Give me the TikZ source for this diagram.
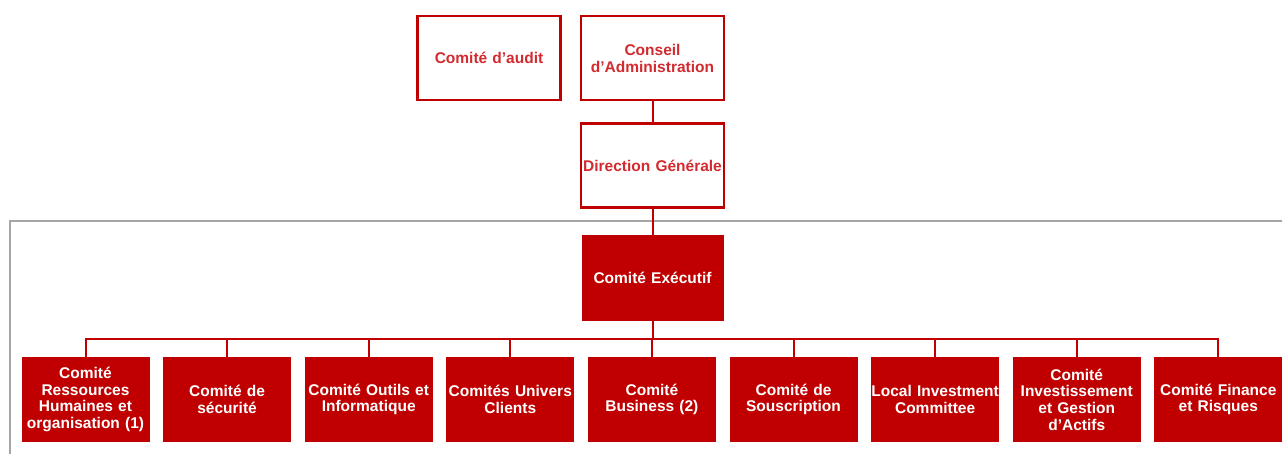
\documentclass[tikz,border=0pt]{standalone}
\usepackage{fontspec}
\setmainfont{Liberation Sans}
\usepackage{tikz}
\usetikzlibrary{positioning}

\definecolor{rouge}{HTML}{C00000}
\definecolor{rougetexte}{HTML}{D22A2E}
\definecolor{cadre}{HTML}{A6A6A6}

\begin{document}
\begin{tikzpicture}[x=1pt, y=1pt, node distance=13.6pt,
    haut/.style={draw=rouge, line width=2.5pt, rectangle, minimum width=143pt, minimum height=84pt,
        inner sep=0pt, text width=140pt, align=center, text=rougetexte,
        font=\fontsize{15.5}{17}\selectfont\bfseries},
    comite/.style={fill=rouge, rectangle, minimum width=128pt, minimum height=85pt, inner sep=0pt,
        outer sep=0pt, text width=128pt, align=center, text=white,
        font=\fontsize{15.5}{16.7}\selectfont\bfseries},
    lien/.style={draw=rouge, line width=2pt}]
    \useasboundingbox (0,0) rectangle (1282,-454);

    % cadre gris
    \draw[cadre, line width=1.5pt] (10,-470) |- (1300,-221);

    \node[haut] (conseil) at (652.5,-58) {
        Conseil\\
        d’Administration
    };
    \node[haut, left=18pt of conseil] (audit) {
        Comité d’audit
    };
    \node[haut, below=21pt of conseil] (dg) {
        Direction Générale
    };
    \node[comite, minimum width=142pt, minimum height=86pt, text width=142pt, below=26pt of dg] (comex) {
        Comité Exécutif
    };

    \node[comite] (rh) at (85.5,-399.5) {
        Comité\\
        Ressources\\
        Humaines et\\
        organisation (1)
    };
    \node[comite, right=of rh] (securite) {
        Comité de\\
        sécurité
    };
    \node[comite, right=of securite] (outils) {
        Comité Outils et\\
        Informatique
    };
    \node[comite, right=of outils] (clients) {
        Comités Univers\\
        Clients
    };
    \node[comite, right=of clients] (business) {
        Comité\\
        Business (2)
    };
    \node[comite, right=of business] (souscription) {
        Comité de\\
        Souscription
    };
    \node[comite, right=of souscription] (lic) {
        Local Investment\\
        Committee
    };
    \node[comite, right=of lic] (actifs) {
        Comité\\
        Investissement\\
        et Gestion\\
        d’Actifs
    };
    \node[comite, right=of actifs] (finance) {
        Comité Finance\\
        et Risques
    };

    \draw[lien] (conseil) -- (dg);
    \draw[lien] (dg) -- (comex);
    \draw[lien] (comex.south) -- ++(0,-18) coordinate (bus);
    \draw[lien] (rh.north) |- (bus) -| (finance.north);
    \draw[lien] (securite.north) -- (securite.north |- bus);
    \draw[lien] (outils.north) -- (outils.north |- bus);
    \draw[lien] (clients.north) -- (clients.north |- bus);
    \draw[lien] (business.north) -- (business.north |- bus);
    \draw[lien] (souscription.north) -- (souscription.north |- bus);
    \draw[lien] (lic.north) -- (lic.north |- bus);
    \draw[lien] (actifs.north) -- (actifs.north |- bus);
\end{tikzpicture}
\end{document}
